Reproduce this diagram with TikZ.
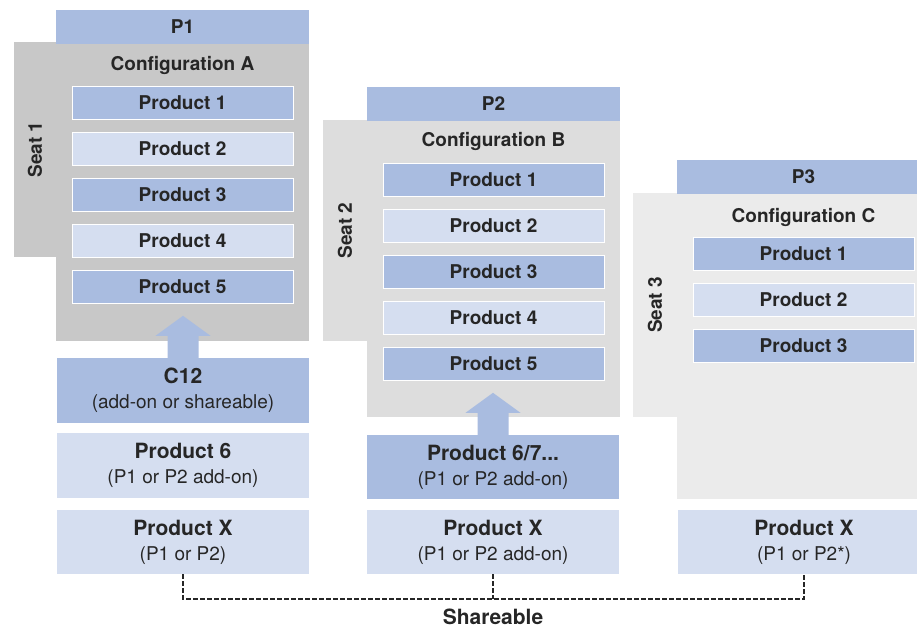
\documentclass[tikz,border=0pt]{standalone}
\usepackage{fontspec}
\setmainfont{TeX Gyre Heros}
\usetikzlibrary{calc}

\definecolor{hblue}{RGB}{169,188,224}
\definecolor{lblue}{RGB}{213,222,240}
\definecolor{grA}{RGB}{200,200,200}
\definecolor{grB}{RGB}{221,221,221}
\definecolor{grC}{RGB}{235,235,235}
\definecolor{txt}{RGB}{38,38,38}

\tikzset{
  every node/.style={text=txt, inner sep=0pt},
  big/.style={font=\bfseries\fontsize{19}{21}\selectfont},
  hdr/.style={big, fill=hblue, minimum width=253pt, minimum height=34pt},
  cfg/.style={minimum width=253pt},
  seat/.style={big, rotate=90},
  prod/.style={big, draw=white, line width=1pt, minimum width=221pt, minimum height=33pt},
  darkprod/.style={prod, fill=hblue},
  lightprod/.style={prod, fill=lblue},
  basebox/.style={align=center, font=\fontsize{19}{25}\selectfont, minimum width=252pt, minimum height=64pt}
}

\begin{document}
\begin{tikzpicture}[x=1pt, y=-1pt]
  \useasboundingbox (0,0) rectangle (917,630);
  \clip (0,0) rectangle (917,630);

  % seats and configurations
  \node[seat, fill=grA, minimum width=215pt, minimum height=42pt] (s1) at (35,149.5) {Seat 1};
  \node[seat, fill=grB, minimum width=221pt, minimum height=44pt] (s2) at (345,230.5) {Seat 2};
  \node[seat, fill=grC, minimum width=224pt, minimum height=44pt] (s3) at (655,305) {Seat 3};

  \node[cfg, fill=grA, minimum height=298pt] (cfgA) at (182.5,192) {};
  \node[cfg, fill=grB, minimum height=296pt] (cfgB) at (493.5,269) {};
  \node[cfg, fill=grC, minimum height=305pt] (cfgC) at (803.5,346.5) {};

  \node[hdr] (p1) at (182.5,26.5) {P1};
  \node[hdr] (p2) at (493.5,104) {P2};
  \node[hdr] (p3) at (803.5,177) {P3};

  \node[big] (ca) at (182.5,65) {Configuration A};
  \node[big] (cb) at (493.5,141) {Configuration B};
  \node[big] (cc) at (803.5,217) {Configuration C};

  \foreach \i/\s in {1/darkprod,2/lightprod,3/darkprod,4/lightprod,5/darkprod} {
    \node[\s] (a\i) at (182.5,{102.5+46.1*(\i-1)}) {Product \i};
    \node[\s] (b\i) at (493.5,{179.5+46.1*(\i-1)}) {Product \i};
  }
  \foreach \i/\s in {1/darkprod,2/lightprod,3/darkprod}
    \node[\s] (c\i) at (803.5,{254+46*(\i-1)}) {Product \i};

  % bottom boxes
  \node[basebox, fill=hblue, minimum height=65pt] (c12) at (183,390.5)
    {{\fontsize{21}{25}\selectfont\bfseries C12}\\(add-on or shareable)};
  \node[basebox, fill=lblue, minimum height=65pt] (p6) at (183,465.5)
    {{\fontsize{21}{25}\selectfont\bfseries Product 6}\\(P1 or P2 add-on)};
  \node[basebox, fill=hblue] (p67) at (493,467)
    {{\fontsize{21}{25}\selectfont\bfseries Product 6/7...}\\(P1 or P2 add-on)};

  \node[basebox, fill=lblue] (px1) at (183,542)
    {{\fontsize{21}{25}\selectfont\bfseries Product X}\\(P1 or P2)};
  \node[basebox, fill=lblue] (px2) at (493,542)
    {{\fontsize{21}{25}\selectfont\bfseries Product X}\\(P1 or P2 add-on)};
  \node[basebox, fill=lblue, minimum width=253pt] (px3) at (804,542)
    {{\fontsize{21}{25}\selectfont\bfseries Product X}\\(P1 or P2*)};

  % block arrows
  \foreach \n in {c12,p67}
    \fill[hblue] (\n.north) ++(-15.5,0) -- ++(0,-22) -- ++(-12,0) -- ++(27.5,-20)
      -- ++(27.5,20) -- ++(-12,0) -- ++(0,22) -- cycle;

  % shareable
  \coordinate (sh) at (493,599);
  \draw[txt, line width=1.1pt, dash pattern=on 5pt off 2pt] (px1.south) |- (sh) -| (px3.south);
  \draw[txt, line width=1.1pt, dash pattern=on 5pt off 2pt] (px2.south) -- (sh);
  \node[font=\bfseries\fontsize{21}{24}\selectfont, below=10pt] (shlabel) at (sh) {Shareable};

\end{tikzpicture}
\end{document}
